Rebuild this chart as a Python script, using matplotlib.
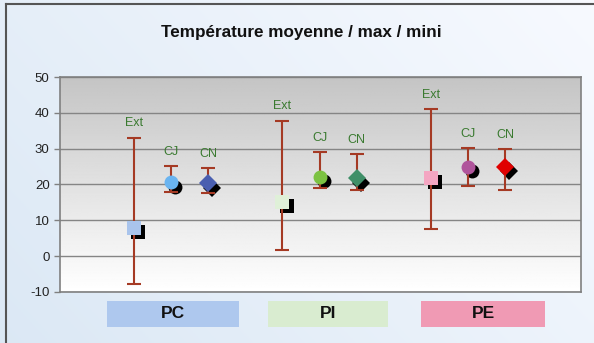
import numpy as np
import matplotlib.pyplot as plt
import matplotlib.transforms as mtransforms
from matplotlib.patches import Rectangle

# data
groups = ["PC", "PI", "PE"]
series = ["Ext", "CJ", "CN"]
x_pos = [1, 2, 3, 5, 6, 7, 9, 10, 11]
means = [7.8, 20.6, 20.3, 15.2, 22.2, 21.7, 21.9, 25.0, 24.8]
maxs = [33.1, 25.1, 24.5, 37.8, 29.0, 28.4, 41.1, 30.1, 29.8]
mins = [-7.8, 18.0, 17.7, 1.7, 19.1, 18.4, 7.7, 19.6, 18.5]
labels = series * 3
markers = ["s", "o", "D"] * 3
colors = ["#a9c4ec", "#6ab4f0", "#4a5fb0",
          "#dff0d8", "#7cc242", "#3f8f68",
          "#f4a6c2", "#b0559c", "#e00000"]
group_colors = ["#aec8ee", "#d9ecd0", "#f09ab4"]
group_centers = [2.05, 6.23, 10.41]
group_widths = [3.55, 3.25, 3.35]
yticks = [-10, 0, 10, 20, 30, 40, 50]

fig = plt.figure(figsize=(5.94, 3.43), dpi=100)

# light blue background of the slide
bg = fig.add_axes([0, 0, 1, 1], zorder=-10)
gx = np.linspace(0, 1, 200)
gy = np.linspace(0, 1, 200)
GX, GY = np.meshgrid(gx, gy)
t = np.clip(0.65 * GX + 0.35 * (1 - GY), 0, 1)
c0 = np.array([0.86, 0.91, 0.96])
c1 = np.array([0.97, 0.98, 1.0])
img = c0[None, None, :] * (1 - t[..., None]) + c1[None, None, :] * t[..., None]
bg.imshow(img, extent=[0, 1, 0, 1], aspect="auto", origin="upper")
bg.plot([6 / 594, 6 / 594], [0, 1 - 4 / 343], color="#555555", lw=1.5)
bg.plot([6 / 594, 1], [1 - 4 / 343, 1 - 4 / 343], color="#555555", lw=1.5)
bg.set_xlim(0, 1)
bg.set_ylim(0, 1)
bg.axis("off")

ax = fig.add_axes([60 / 594, 1 - 292 / 343, 521 / 594, 215 / 343])
ax.set_xlim(-1, 13.05)
ax.set_ylim(-10, 50)

# gray gradient plot area
grad = np.linspace(0.77, 1.0, 256)[:, None]
grad = np.repeat(grad, 2, axis=1)
ax.imshow(grad, cmap="gray", vmin=0, vmax=1, extent=[-1, 13.05, -10, 50],
          aspect="auto", origin="upper", zorder=0)

for y in yticks:
    ax.axhline(y, color="#858585", lw=1.0, zorder=1)

for spine in ax.spines.values():
    spine.set_color("#808080")
    spine.set_linewidth(1.2)

ax.set_yticks(yticks)
ax.set_yticklabels([str(v) for v in yticks], fontsize=9.5, color="#222222",
                   family="Liberation Sans")
ax.tick_params(axis="y", length=4, color="#808080", width=1)
ax.set_xticks([])

for i in range(len(x_pos)):
    x = x_pos[i]
    ax.errorbar(x, means[i],
                yerr=[[means[i] - mins[i]], [maxs[i] - means[i]]],
                fmt="none", ecolor="#a53a24", elinewidth=1.5,
                capsize=5, capthick=1.5, zorder=3)
    size = 9 if markers[i] == "D" else 10
    # black drop shadow
    shadow = mtransforms.offset_copy(ax.transData, fig=fig, x=3, y=-3, units="points")
    ax.plot(x, means[i], marker=markers[i], ms=size, color="black", mew=0,
            transform=shadow, zorder=2.5)
    ax.plot(x, means[i], marker=markers[i], ms=size, color=colors[i], mew=0,
            zorder=4)
    ax.annotate(labels[i], (x, maxs[i]), xytext=(0, 6), textcoords="offset points",
                ha="center", va="bottom", fontsize=9, color="#3a7a30",
                family="Liberation Sans")

# group boxes under the axis
trans = mtransforms.blended_transform_factory(ax.transData, fig.transFigure)
for g, c, xc, w in zip(groups, group_colors, group_centers, group_widths):
    ax.add_patch(Rectangle((xc - w / 2, 1 - 327 / 343), w, 26 / 343,
                           transform=trans, facecolor=c, edgecolor="none",
                           clip_on=False))
    ax.text(xc, 1 - 314 / 343, g, transform=trans, ha="center", va="center",
            fontsize=12.5, fontweight="bold", color="#111111",
            family="Liberation Sans")

fig.text(0.508, 1 - 33 / 343, "Température moyenne / max / mini", ha="center",
         va="center", fontsize=12.3, fontweight="bold", color="#111111",
         family="Liberation Sans")

fig.savefig("out.png", dpi=100)
